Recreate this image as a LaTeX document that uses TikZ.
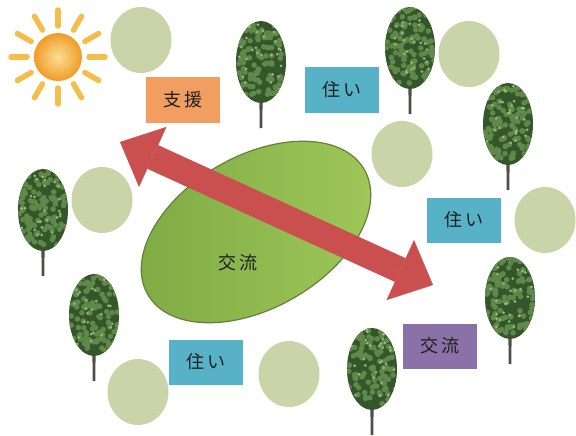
\documentclass[tikz,border=0pt]{standalone}
\usepackage{fontspec}
\newfontfamily\jpfont[LetterSpace=12]{Noto Sans CJK JP}
\usepackage{tikz}
\usetikzlibrary{positioning}
\usetikzlibrary{shapes.geometric}
\usetikzlibrary{arrows.meta}

\definecolor{patch_green}{RGB}{201,213,169}
\definecolor{box_orange}{RGB}{242,158,97}
\definecolor{box_blue}{RGB}{88,178,199}
\definecolor{box_purple}{RGB}{138,114,168}
\definecolor{hub_light}{RGB}{160,200,90}
\definecolor{hub_mid}{RGB}{145,188,80}
\definecolor{hub_dark}{RGB}{126,170,68}
\definecolor{hub_edge}{RGB}{100,128,58}
\definecolor{arrow_red}{RGB}{201,80,78}
\definecolor{leaf_dark}{RGB}{52,86,42}
\definecolor{leaf_mid}{RGB}{96,136,74}
\definecolor{leaf_light}{RGB}{150,186,120}
\definecolor{trunk_grey}{RGB}{78,78,74}
\definecolor{sun_ray}{RGB}{243,190,76}
\definecolor{sun_core}{RGB}{252,222,150}
\definecolor{sun_rim}{RGB}{240,156,38}

\tikzset{
  label_box/.style={rectangle, minimum width = 74pt, minimum height = 45pt, inner sep = 0, text = black!88, font = \jpfont\fontsize{18}{18}\selectfont},
  box_orange/.style={label_box, fill = box_orange},
  box_blue/.style={label_box, fill = box_blue},
  box_purple/.style={label_box, fill = box_purple},
  patch/.style={ellipse, fill = patch_green, minimum width = 61pt, minimum height = 66pt, inner sep = 0},
  hub_shape/.style={ellipse, rotate = 30, minimum width = 250pt, minimum height = 152pt, inner sep = 0,
    left color = hub_dark, middle color = hub_mid, right color = hub_light, draw = hub_edge, line width = 1.2pt},
  hub_text/.style={text = black!88, font = \jpfont\fontsize{18}{18}\selectfont},
  sun_ray_line/.style={line width = 5.5pt, line cap = round, color = sun_ray},
  two_way/.style={{Triangle[width = 66pt, length = 36pt, line width = 0.4pt]}-{Triangle[width = 66pt, length = 36pt, line width = 0.4pt]},
    line width = 26pt, color = arrow_red},
  tree/.pic={
    \fill[trunk_grey] (-1.8,20) -- (1.8,20) -- (1.3,66) -- (-1.3,66) -- cycle;
    \begin{scope}
      \clip (0,0) ellipse [x radius = 25pt, y radius = 41pt];
      \fill[leaf_dark] (-26,-42) rectangle (26,42);
      \foreach \k in {1,...,110}
        \fill[leaf_mid] ({48*rnd-24},{76*rnd-41}) circle (2.8pt);
      \foreach \k in {1,...,30}
        \fill[leaf_light] ({44*rnd-22},{70*rnd-40}) circle (1.5pt);
    \end{scope}
  }
}

\begin{document}
\begin{tikzpicture}[x = 1pt, y = -1pt]
\useasboundingbox (0,0) rectangle (576,436);
\pgfmathsetseed{7}

%% Patches
\node[patch] at (141,40)  (patch_nw) {};
\node[patch] at (469,54)  (patch_ne) {};
\node[patch] at (402,154) (patch_mid) {};
\node[patch] at (102,200) (patch_w) {};
\node[patch] at (545,220) (patch_e) {};
\node[patch] at (138,392) (patch_sw) {};
\node[patch] at (289,374) (patch_s) {};

%% Trees
\pic at (261,62)  {tree};
\pic at (410,48)  {tree};
\pic at (508,124) {tree};
\pic at (43,210)  {tree};
\pic at (94,315)  {tree};
\pic at (510,298) {tree};
\pic at (372,369) {tree};

%% Sun
\begin{scope}[shift = {(58,57)}]
  \foreach \a in {0,30,...,330}
    \draw[sun_ray_line] (\a:31pt) -- (\a:47pt);
  \shade[inner color = sun_core, outer color = sun_rim] (0,0) circle (24pt);
\end{scope}

%% Labels
\node[box_orange] at (183,100) (support) {支援};
\node[box_blue]   at (342,90)  (home_n)  {住い};
\node[box_blue]   at (464,220) (home_e)  {住い};
\node[box_blue]   at (206,362) (home_s)  {住い};
\node[box_purple] at (440,346) (meet)    {交流};

%% Hub
\node[hub_shape] at (256,232) (hub) {};
\node[hub_text]  at (238,263) (hub_label) {交流};

%% Arrow
\coordinate (arrow_nw) at (120,142);
\coordinate (arrow_se) at (433,285);
\draw[two_way] (arrow_nw) -- (arrow_se);

\end{tikzpicture}
\end{document}
